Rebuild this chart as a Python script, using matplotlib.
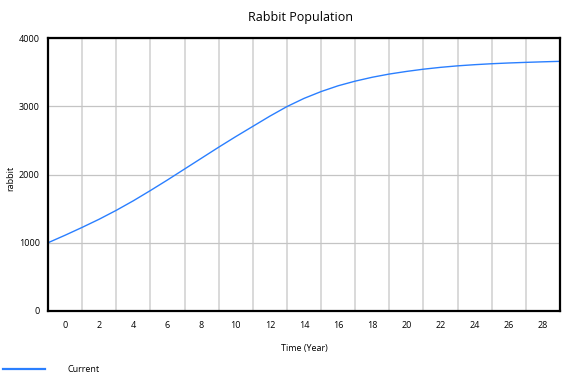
import matplotlib
matplotlib.use('Agg')
import matplotlib.pyplot as plt
from matplotlib.lines import Line2D

plt.rcParams['font.family'] = ['Open Sans', 'DejaVu Sans']

# values, one per year
years = list(range(0, 31))
rabbits = [1000, 1110, 1225, 1345, 1475, 1615, 1765, 1920, 2080, 2240,
           2400, 2555, 2705, 2855, 2995, 3115, 3215, 3300, 3368, 3425,
           3472, 3510, 3543, 3570, 3592, 3609, 3623, 3634, 3643, 3651,
           3658]
tick_labels = ['0', '2', '4', '6', '8', '10', '12', '14', '16', '18',
               '20', '22', '24', '26', '28']
y_ticks = [0, 1000, 2000, 3000, 4000]

line_color = '#2a7fff'

fig = plt.figure(figsize=(5.76, 3.84), dpi=100)
ax = fig.add_axes([48 / 576, (384 - 311) / 384, 512 / 576, 273 / 384])

ax.plot(years, rabbits, color=line_color, linewidth=1.0)

ax.set_xlim(0, 30)
ax.set_ylim(0, 4000)

# labels sit in the middle of each 2-year cell, grid lines on the cell edges
ax.set_xticks([i * 2 + 1 for i in range(len(tick_labels))])
ax.set_xticklabels(tick_labels)
ax.set_xticks(list(range(2, 30, 2)), minor=True)
ax.set_yticks(y_ticks)
ax.tick_params(axis='both', which='both', length=0, labelsize=6.5)
ax.tick_params(axis='x', pad=7)
ax.tick_params(axis='y', pad=6)

ax.grid(True, which='minor', axis='x', color='#d0d0d0', linewidth=1.1)
ax.grid(True, which='major', axis='y', color='#c4c4c4', linewidth=0.9)
ax.grid(False, which='major', axis='x')
ax.set_axisbelow(True)

for s in ax.spines.values():
    s.set_linewidth(1.6)
    s.set_color('black')

fig.text(300 / 576, 1 - 17 / 384, 'Rabbit Population', ha='center', va='center', fontsize=9)
ax.set_xlabel('Time (Year)', fontsize=6.5, labelpad=10)
fig.text(11 / 576, 1 - 178 / 384, 'rabbit', rotation=90, ha='center', va='center', fontsize=6.5)

# legend below the chart
fig.add_artist(Line2D([3 / 576, 45 / 576], [1 - 369 / 384, 1 - 369 / 384],
                      color=line_color, linewidth=1.6, transform=fig.transFigure))
fig.text(67 / 576, 1 - 369 / 384, 'Current', ha='left', va='center', fontsize=6.5)

fig.savefig('out.png', dpi=100)
